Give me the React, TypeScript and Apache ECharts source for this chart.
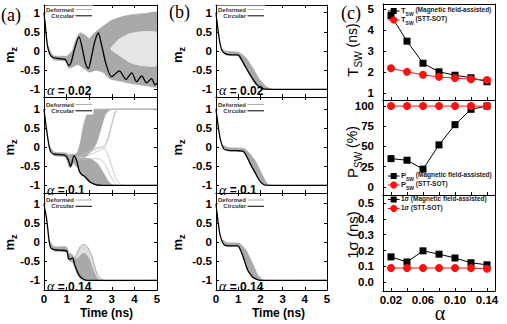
import { useEffect, useRef } from "react";
import * as echarts from "echarts";

type Pt = [number, number];

const SANS = "'Liberation Sans', Arial, sans-serif";
const SERIF = "'Liberation Serif', 'Times New Roman', serif";

// ---- tick values ----
const timeTicks = [0, 1, 2, 3, 4, 5];
const mzTicks = [-1, -0.5, 0, 0.5, 1];
const alphaTicks = [0.02, 0.04, 0.06, 0.08, 0.1, 0.12, 0.14];
const alphaTickLabels = [0.02, 0.06, 0.1, 0.14];
const tswTicks = [1, 2, 3, 4, 5];
const pswTicks = [0, 25, 50, 75, 100];
const sigmaTicks = [0, 0.1, 0.2, 0.3, 0.4, 0.5];
const dampingLabels = ["0.02", "0.1", "0.14"];

// ---- (c) switching statistics vs damping ----
const alphas = [0.02, 0.04, 0.06, 0.08, 0.1, 0.12, 0.14];
const tswField = [4.7, 3.48, 2.43, 2.02, 1.86, 1.74, 1.55];
const tswSot = [2.19, 2.02, 1.88, 1.78, 1.72, 1.67, 1.63];
const pswField = [35, 33, 22, 52, 77, 96, 100];
const pswSot = [100, 100, 100, 100, 100, 100, 100];
const sigmaField = [0.16, 0.128, 0.198, 0.177, 0.153, 0.123, 0.11];
const sigmaSot = [0.09, 0.09, 0.09, 0.09, 0.09, 0.089, 0.085];

// ---- (a) magnetic field-assisted switching, m_z(t) ----
const fieldCircular02: Pt[] = [[0, 1], [0.07, 0.6], [0.15, 0.15], [0.25, -0.08], [0.4, -0.17], [0.7, -0.2], [0.93, -0.22], [1.02, -0.3], [1.1, -0.38], [1.2, -0.3], [1.35, 0.05], [1.55, 0.37], [1.7, 0.05], [1.85, -0.35], [1.96, -0.46], [2.1, -0.15], [2.25, 0.25], [2.4, 0.47], [2.55, 0.15], [2.75, -0.35], [2.99, -0.67], [3.15, -0.6], [3.33, -0.52], [3.63, -0.74], [3.88, -0.57], [4.1, -0.8], [4.32, -0.65], [4.54, -0.83], [4.76, -0.72], [4.91, -0.88], [5, -0.84]];
const fieldDeformed02Upper: Pt[] = [[0.15, 0.15], [0.4, -0.12], [0.95, -0.14], [1.05, -0.12], [1.25, 0.0], [1.45, 0.35], [1.6, 0.47], [1.8, 0.42], [2.0, 0.32], [2.2, 0.45], [2.4, 0.55], [2.7, 0.68], [3.0, 0.8], [3.5, 0.9], [4.0, 0.95], [4.5, 0.98], [5, 1.0]];
const fieldDeformed02Lower: Pt[] = [[0.15, 0.15], [0.4, -0.22], [0.95, -0.26], [1.1, -0.45], [1.25, -0.42], [1.5, -0.35], [1.75, -0.45], [2.0, -0.55], [2.3, -0.5], [2.6, -0.55], [2.9, -0.72], [3.5, -0.8], [4.0, -0.86], [4.5, -0.9], [5, -0.93]];
const fieldSparse02Upper: Pt[] = [[2.95, 0.05], [3.3, 0.3], [3.8, 0.45], [4.3, 0.5], [4.97, 0.48]];
const fieldSparse02Lower: Pt[] = [[2.95, 0.05], [3.3, -0.1], [3.8, -0.3], [4.3, -0.38], [4.97, -0.38]];

const fieldCircular10: Pt[] = [[0, 1], [0.13, 0.39], [0.28, -0.1], [0.43, -0.18], [0.94, -0.21], [1.07, -0.32], [1.18, -0.5], [1.33, -0.22], [1.45, -0.36], [1.56, -0.62], [1.68, -0.72], [1.8, -0.76], [1.95, -0.86], [2.05, -0.92], [2.15, -0.95], [2.35, -0.99], [2.6, -1], [5, -1]];
const fieldDown10Upper: Pt[] = [[0.2, 0.05], [0.45, -0.13], [0.95, -0.15], [1.1, -0.2], [1.3, -0.18], [1.5, -0.28], [1.8, -0.28], [2.1, -0.32], [2.4, -0.45], [2.65, -0.7], [2.85, -0.9], [3.0, -0.98], [3.2, -1.0], [5, -1.0]];
const fieldDown10Lower: Pt[] = [[0.2, 0.05], [0.45, -0.22], [0.95, -0.25], [1.15, -0.55], [1.3, -0.42], [1.5, -0.55], [1.65, -0.72], [1.9, -0.86], [2.2, -0.97], [2.5, -1.0], [5, -1.0]];
const fieldUp10Upper: Pt[] = [[1.35, -0.22], [1.5, -0.12], [1.62, 0.15], [1.75, 0.56], [1.9, 0.87], [2.05, 0.98], [2.2, 1.0], [5, 1.0]];
const fieldUp10Lower: Pt[] = [[1.35, -0.22], [1.8, -0.25], [2.1, -0.1], [2.3, 0.08], [2.5, 0.45], [2.7, 0.85], [2.9, 0.98], [3.05, 1.0], [5, 1.0]];
const fieldStray10a: Pt[] = [[1.5, -0.3], [1.9, -0.12], [2.3, -0.02], [2.6, 0.02], [2.8, 0.2], [3.0, 0.6], [3.15, 0.9], [3.3, 1.0]];
const fieldStray10b: Pt[] = [[1.5, -0.3], [1.9, -0.15], [2.3, -0.05], [2.6, 0.0], [2.8, -0.15], [3.0, -0.5], [3.2, -0.85], [3.4, -0.98], [3.5, -1.0]];
const fieldStray10c: Pt[] = [[1.5, -0.32], [2.0, -0.2], [2.4, -0.1], [2.7, 0.0], [2.9, 0.35], [3.1, 0.85], [3.2, 1.0]];
const fieldStray10d: Pt[] = [[1.55, -0.35], [2.0, -0.3], [2.4, -0.3], [2.7, -0.45], [2.95, -0.75], [3.15, -0.95], [3.3, -1.0]];

const fieldCircular14: Pt[] = [[0, 1], [0.12, 0.58], [0.27, -0.11], [0.41, -0.19], [0.7, -0.21], [1.0, -0.23], [1.08, -0.42], [1.16, -0.45], [1.26, -0.41], [1.36, -0.6], [1.47, -0.76], [1.55, -0.86], [1.7, -0.95], [1.85, -0.99], [2.0, -1.0], [5, -1.0]];
const fieldDense14Upper: Pt[] = [[0.2, 0.05], [0.45, -0.12], [1.0, -0.13], [1.1, -0.28], [1.25, -0.33], [1.4, -0.45], [1.55, -0.4], [1.7, -0.3], [1.85, -0.32], [2.0, -0.45], [2.15, -0.7], [2.3, -0.9], [2.45, -1.0], [5, -1.0]];
const fieldDense14Lower: Pt[] = [[0.2, 0.05], [0.45, -0.23], [1.0, -0.26], [1.1, -0.47], [1.3, -0.55], [1.45, -0.8], [1.6, -0.95], [1.8, -1.0], [5, -1.0]];
const fieldSparse14Upper: Pt[] = [[1.3, -0.5], [1.45, -0.3], [1.6, -0.12], [1.75, -0.06], [1.95, -0.15], [2.12, -0.37], [2.25, -0.65], [2.35, -0.84], [2.5, -0.95], [2.65, -1.0]];
const fieldSparse14Lower: Pt[] = [[1.3, -0.5], [1.55, -0.4], [1.7, -0.3], [1.85, -0.32], [2.0, -0.45], [2.15, -0.7], [2.3, -0.9], [2.45, -1.0], [2.65, -1.0]];

// ---- (b) STT-SOT switching, m_z(t) ----
const sotCircular02: Pt[] = [[0, 1], [0.08, 0.6], [0.18, 0.2], [0.28, 0.0], [0.45, -0.08], [0.7, -0.1], [0.95, -0.1], [1.05, -0.13], [1.23, -0.31], [1.53, -0.61], [1.83, -0.87], [2.13, -0.99], [2.4, -1.0], [5, -1.0]];
const sotDeformed02Upper: Pt[] = [[0.25, 0.05], [0.45, -0.01], [1.0, -0.03], [1.1, -0.06], [1.35, -0.18], [1.65, -0.44], [1.95, -0.74], [2.25, -0.93], [2.55, -1.0], [5, -1.0]];
const sotDeformed02Lower: Pt[] = [[0.25, 0.05], [0.45, -0.1], [1.0, -0.12], [1.2, -0.3], [1.5, -0.62], [1.8, -0.88], [2.1, -1.0], [5, -1.0]];

const sotCircular10: Pt[] = [[0, 1], [0.1, 0.55], [0.2, 0.2], [0.35, -0.04], [0.55, -0.08], [0.9, -0.09], [1.2, -0.1], [1.3, -0.15], [1.45, -0.32], [1.6, -0.5], [1.76, -0.66], [1.9, -0.82], [2.06, -0.94], [2.2, -0.99], [2.4, -1.0], [5, -1.0]];
const sotDeformed10Upper: Pt[] = [[0.3, 0.05], [0.55, -0.01], [1.25, -0.03], [1.47, -0.13], [1.76, -0.35], [2.06, -0.7], [2.28, -0.94], [2.45, -1.0], [5, -1.0]];
const sotDeformed10Lower: Pt[] = [[0.3, 0.05], [0.55, -0.09], [1.2, -0.11], [1.45, -0.33], [1.76, -0.67], [2.06, -0.95], [2.2, -1.0], [5, -1.0]];

const sotCircular14: Pt[] = [[0, 1], [0.1, 0.5], [0.2, 0.15], [0.37, -0.07], [0.6, -0.1], [0.97, -0.1], [1.05, -0.14], [1.19, -0.33], [1.42, -0.72], [1.6, -0.88], [1.72, -0.94], [2.0, -1.0], [5, -1.0]];
const sotDeformed14Upper: Pt[] = [[0.3, 0.05], [0.5, -0.02], [1.04, -0.03], [1.15, -0.08], [1.34, -0.2], [1.64, -0.55], [1.87, -0.85], [2.09, -0.98], [2.25, -1.0], [5, -1.0]];
const sotDeformed14Lower: Pt[] = [[0.3, 0.05], [0.5, -0.1], [1.0, -0.11], [1.19, -0.34], [1.42, -0.73], [1.72, -0.95], [2.0, -1.0], [5, -1.0]];

// ---- layout ----
const panelLeft = { a: 44, b: 216, c: 383 };
const panelWidth = { a: 113, b: 111, c: 112 };
const rowsAB = [
  { top: 5, height: 92, min: -1.2, max: 1.2 },
  { top: 97, height: 96, min: -1.2, max: 1.32 },
  { top: 193, height: 97, min: -1.25, max: 1.28 },
];
const rowsC = [
  { top: 4, height: 96, min: 0.68, max: 5.25 },
  { top: 100, height: 95, min: -10, max: 107.5 },
  { top: 195, height: 96, min: -0.055, max: 0.55 },
];

const GRAY = "#a9a9a9";
const LIGHT = "#dddddd";
const RED = "#ff1010";

function dedupe(points: Pt[]): Pt[] {
  const out: Pt[] = [];
  for (const p of points) {
    const q = out[out.length - 1];
    if (!q || q[0] !== p[0] || q[1] !== p[1]) out.push(p);
  }
  const f = out[0];
  const l = out[out.length - 1];
  if (out.length > 2 && f[0] === l[0] && f[1] === l[1]) out.pop();
  return out;
}

function band(axis: number, upper: Pt[], lower: Pt[], fill: string, z: number) {
  const outline = dedupe([...upper, ...lower.slice().reverse()]);
  return {
    type: "custom",
    xAxisIndex: axis,
    yAxisIndex: axis,
    z,
    silent: true,
    clip: true,
    data: [upper[0]],
    renderItem: (_params: any, api: any) => ({
      type: "polygon",
      shape: { points: outline.map((p) => api.coord(p)), smooth: 0.15 },
      style: { fill, stroke: fill, lineWidth: 0.9 },
    }),
  };
}

function curve(axis: number, data: Pt[], color: string, width: number, z: number) {
  return {
    type: "line",
    xAxisIndex: axis,
    yAxisIndex: axis,
    data,
    symbol: "none",
    showSymbol: false,
    smooth: 0.3,
    clip: true,
    silent: true,
    z,
    lineStyle: { color, width },
  };
}

function buildOption() {
  const grids: any[] = [];
  const xAxes: any[] = [];
  const yAxes: any[] = [];
  const series: any[] = [];
  const graphic: any[] = [];

  const line = { show: true, onZero: false, lineStyle: { color: "#000", width: 1 } };
  const tickLabel = { color: "#000", fontFamily: SANS, fontWeight: "bold", lineHeight: 12 };

  // Panels (a) and (b): time traces
  const addTimeGrid = (left: number, width: number, r: number) => {
    const row = rowsAB[r];
    const g = grids.length;
    grids.push({ left, width, top: row.top, height: row.height });
    const bottom = r === 2;
    const xBase = { type: "value", gridIndex: g, min: 0, max: 5, splitLine: { show: false }, axisLine: line };
    xAxes.push({ ...xBase, position: "bottom", axisTick: { inside: true, length: 3, customValues: timeTicks, lineStyle: { color: "#000" } }, axisLabel: { ...tickLabel, show: bottom, customValues: timeTicks, fontSize: 11.5, margin: 3 } });
    xAxes.push({ ...xBase, position: "top", axisTick: { inside: true, length: 3, customValues: timeTicks, lineStyle: { color: "#000" } }, axisLabel: { show: false } });
    const yBase = { type: "value", gridIndex: g, min: row.min, max: row.max, splitLine: { show: false }, axisLine: line };
    yAxes.push({ ...yBase, position: "left", axisTick: { inside: true, length: 3, customValues: mzTicks, lineStyle: { color: "#000" } }, axisLabel: { ...tickLabel, customValues: mzTicks, fontSize: 11.5, margin: 4, formatter: (v: number) => String(v) } });
    yAxes.push({ ...yBase, position: "right", axisTick: { inside: true, length: 3, customValues: mzTicks, lineStyle: { color: "#000" } }, axisLabel: { show: false } });
    return 2 * g;
  };

  const fieldAxes = [0, 1, 2].map((r) => addTimeGrid(panelLeft.a, panelWidth.a, r));
  const sotAxes = [0, 1, 2].map((r) => addTimeGrid(panelLeft.b, panelWidth.b, r));

  // (a) alpha = 0.02
  series.push(band(fieldAxes[0], fieldDeformed02Upper, fieldDeformed02Lower, GRAY, 1));
  series.push(band(fieldAxes[0], fieldSparse02Upper, fieldSparse02Lower, "#e6e6e6", 2));
  series.push(curve(fieldAxes[0], fieldCircular02, "#000", 1.3, 5));
  // (a) alpha = 0.1
  series.push(band(fieldAxes[1], fieldDown10Upper, fieldDown10Lower, GRAY, 1));
  series.push(band(fieldAxes[1], fieldUp10Upper, fieldUp10Lower, GRAY, 1));
  [fieldStray10a, fieldStray10b, fieldStray10c, fieldStray10d].forEach((s) => series.push(curve(fieldAxes[1], s, "#bdbdbd", 0.8, 2)));
  series.push(curve(fieldAxes[1], fieldCircular10, "#000", 1.3, 5));
  // (a) alpha = 0.14
  series.push(band(fieldAxes[2], fieldSparse14Upper, fieldSparse14Lower, LIGHT, 1));
  series.push(curve(fieldAxes[2], fieldSparse14Upper, GRAY, 0.9, 2));
  series.push(band(fieldAxes[2], fieldDense14Upper, fieldDense14Lower, GRAY, 3));
  series.push(curve(fieldAxes[2], fieldCircular14, "#000", 1.3, 5));

  // (b)
  series.push(band(sotAxes[0], sotDeformed02Upper, sotDeformed02Lower, GRAY, 1));
  series.push(curve(sotAxes[0], sotCircular02, "#000", 1.3, 5));
  series.push(band(sotAxes[1], sotDeformed10Upper, sotDeformed10Lower, GRAY, 1));
  series.push(curve(sotAxes[1], sotCircular10, "#000", 1.3, 5));
  series.push(band(sotAxes[2], sotDeformed14Upper, sotDeformed14Lower, GRAY, 1));
  series.push(curve(sotAxes[2], sotCircular14, "#000", 1.3, 5));

  // Panel (c): statistics vs damping constant
  const cTicks = [tswTicks, pswTicks, sigmaTicks];
  const cFormat = [(v: number) => String(v), (v: number) => String(v), (v: number) => v.toFixed(1)];
  const cData = [
    [tswField, tswSot],
    [pswField, pswSot],
    [sigmaField, sigmaSot],
  ];
  rowsC.forEach((row, r) => {
    const g = grids.length;
    grids.push({ left: panelLeft.c, width: panelWidth.c, top: row.top, height: row.height });
    const xBase = { type: "value", gridIndex: g, min: 0.01, max: 0.15, splitLine: { show: false }, axisLine: line };
    xAxes.push({ ...xBase, position: "bottom", axisTick: { inside: true, length: 3, customValues: alphaTicks, lineStyle: { color: "#000" } }, axisLabel: { ...tickLabel, show: r === 2, customValues: alphaTickLabels, fontSize: 11.5, margin: 3, formatter: (v: number) => v.toFixed(2) } });
    xAxes.push({ ...xBase, position: "top", axisTick: { show: false }, axisLabel: { show: false } });
    const yBase = { type: "value", gridIndex: g, min: row.min, max: row.max, splitLine: { show: false }, axisLine: line };
    yAxes.push({ ...yBase, position: "left", axisTick: { inside: true, length: 3, customValues: cTicks[r], lineStyle: { color: "#000" } }, axisLabel: { ...tickLabel, lineHeight: 10, customValues: cTicks[r], fontSize: 11.5, margin: 9, formatter: cFormat[r] } });
    yAxes.push({ ...yBase, position: "right", axisTick: { show: false }, axisLabel: { show: false } });
    const [field, sot] = cData[r];
    series.push({
      type: "line", xAxisIndex: 2 * g, yAxisIndex: 2 * g, z: 3, silent: true,
      data: alphas.map((a, i) => [a, field[i]]),
      symbol: "rect", symbolSize: 7,
      itemStyle: { color: "#000" }, lineStyle: { color: "#000", width: 1 },
    });
    series.push({
      type: "line", xAxisIndex: 2 * g, yAxisIndex: 2 * g, z: 4, silent: true,
      data: alphas.map((a, i) => [a, sot[i]]),
      symbol: "circle", symbolSize: 8,
      itemStyle: { color: RED }, lineStyle: { color: RED, width: 1 },
    });
  });

  // ---- texts ----
  const txt = (x: number, y: number, style: any, extra: any = {}) =>
    graphic.push({ type: "text", x, y, z: 100, silent: true, style: { fill: "#000", ...style }, ...extra });

  txt(1, 15, { text: "(a)", fontFamily: SERIF, fontSize: 18, verticalAlign: "middle" });
  txt(169, 12, { text: "(b)", fontFamily: SERIF, fontSize: 18, verticalAlign: "middle" });
  txt(341, 13, { text: "(c)", fontFamily: SERIF, fontSize: 18, verticalAlign: "middle" });

  const mzRich = {
    m: { fontFamily: SANS, fontWeight: "bold", fontSize: 13, lineHeight: 16, verticalAlign: "top", fill: "#000" },
    z: { fontFamily: SANS, fontWeight: "bold", fontSize: 9, lineHeight: 16, verticalAlign: "bottom", fill: "#000" },
  };
  const mzCenters = [55, 147.5, 242.5];
  [10.5, 178.5].forEach((x) =>
    mzCenters.forEach((y) =>
      txt(x, y, { text: "{m|m}{z|z}", rich: mzRich, align: "center", verticalAlign: "middle" }, { rotation: Math.PI / 2 })
    )
  );

  [panelLeft.a, panelLeft.b].forEach((l) =>
    txt(l + 62.5, 313, { text: "Time (ns)", fontFamily: SANS, fontWeight: "bold", fontSize: 12, lineHeight: 12, align: "center", verticalAlign: "middle" })
  );
  txt(440, 312.5, { text: "α", fontFamily: SERIF, fontSize: 20, lineHeight: 20, align: "center", verticalAlign: "middle" });

  const cNameRich = {
    b: { fontFamily: SANS, fontSize: 15, lineHeight: 19, verticalAlign: "top", fill: "#000" },
    s: { fontFamily: SANS, fontSize: 10, lineHeight: 19, verticalAlign: "bottom", fill: "#000" },
    r: { fontFamily: SANS, fontSize: 14, lineHeight: 19, verticalAlign: "top", fill: "#000" },
  };
  const cNames = ["{b|T}{s|SW}{r| (ns)}", "{b|P}{s|SW}{r| (%)}", "{b|1σ (ns)}"];
  const cNameY = [50, 152, 235];
  cNames.forEach((t, i) =>
    txt(354, cNameY[i], { text: t, rich: cNameRich, align: "center", verticalAlign: "middle" }, { rotation: Math.PI / 2 })
  );

  // damping labels inside (a) and (b)
  const alphaRich = {
    a: { fontFamily: SERIF, fontStyle: "italic", fontSize: 14, fill: "#000" },
    v: { fontFamily: SANS, fontWeight: "bold", fontSize: 12, fill: "#000" },
  };
  const alphaY = [90.5, 190, 286.5];
  [panelLeft.a, panelLeft.b].forEach((l) =>
    dampingLabels.forEach((d, r) =>
      txt(l + 3, alphaY[r], { text: `{a|α}{v| = ${d}}`, rich: alphaRich, verticalAlign: "middle" })
    )
  );

  // legends of (a) and (b)
  const legendY = [9.5, 104.5, 200];
  [panelLeft.a, panelLeft.b].forEach((l) =>
    legendY.forEach((y) => {
      graphic.push({ type: "rect", z: 99, silent: true, shape: { x: l + 1.5, y: y - 4, width: 48, height: 14 }, style: { fill: "#fff" } });
      txt(l + 30, y, { text: "Deformed", fontFamily: SANS, fontWeight: "bold", fontSize: 6, fill: "#333", align: "right", verticalAlign: "middle" });
      txt(l + 30, y + 6.3, { text: "Circular", fontFamily: SANS, fontWeight: "bold", fontSize: 6, fill: "#333", align: "right", verticalAlign: "middle" });
      graphic.push({ type: "line", z: 100, silent: true, shape: { x1: l + 31.5, y1: y, x2: l + 48, y2: y }, style: { stroke: "#b0b0b0", lineWidth: 1 } });
      graphic.push({ type: "line", z: 100, silent: true, shape: { x1: l + 31.5, y1: y + 6.3, x2: l + 48, y2: y + 6.3 }, style: { stroke: "#000", lineWidth: 1 } });
    })
  );

  // legends of (c)
  const legRich = {
    b: { fontFamily: SANS, fontWeight: "bold", fontSize: 7.5, lineHeight: 10, verticalAlign: "top", fill: "#222" },
    s: { fontFamily: SANS, fontWeight: "bold", fontSize: 5, lineHeight: 10, verticalAlign: "bottom", fill: "#222" },
    r: { fontFamily: SANS, fontWeight: "bold", fontSize: 6.5, lineHeight: 10, verticalAlign: "top", fill: "#222" },
  };
  const legendEntries = [
    { y: 11, text: "{b|T}{s|SW}{r| (Magnetic field-assisted)}", red: false },
    { y: 20, text: "{b|T}{s|SW}{r| (STT-SOT)}", red: true },
    { y: 176, text: "{b|P}{s|SW}{r| (Magnetic field-assisted)}", red: false },
    { y: 185, text: "{b|P}{s|SW}{r| (STT-SOT)}", red: true },
    { y: 199.5, text: "{r|1σ (Magnetic field-assisted)}", red: false },
    { y: 208.5, text: "{r|1σ (STT-SOT)}", red: true },
  ];
  legendEntries.forEach((e) => {
    const c = e.red ? RED : "#000";
    graphic.push({ type: "line", z: 100, silent: true, shape: { x1: 388, y1: e.y, x2: 399.5, y2: e.y }, style: { stroke: c, lineWidth: 1 } });
    if (e.red) {
      graphic.push({ type: "circle", z: 101, silent: true, shape: { cx: 393.7, cy: e.y, r: 3.6 }, style: { fill: c } });
    } else {
      graphic.push({ type: "rect", z: 101, silent: true, shape: { x: 390.7, y: e.y - 3, width: 6, height: 6 }, style: { fill: c } });
    }
    txt(401, e.y, { text: e.text, rich: legRich, verticalAlign: "middle" });
  });

  return {
    animation: false,
    backgroundColor: "#fff",
    grid: grids,
    xAxis: xAxes,
    yAxis: yAxes,
    series,
    graphic: { elements: graphic },
  };
}

export default function App() {
  const ref = useRef<HTMLDivElement>(null);
  useEffect(() => {
    if (!ref.current) return;
    const chart = echarts.init(ref.current, undefined, { renderer: "svg" });
    chart.setOption(buildOption() as any);
    return () => chart.dispose();
  }, []);
  return <div ref={ref} style={{ position: "fixed", left: 0, top: 0, width: 507, height: 324 }} />;
}
